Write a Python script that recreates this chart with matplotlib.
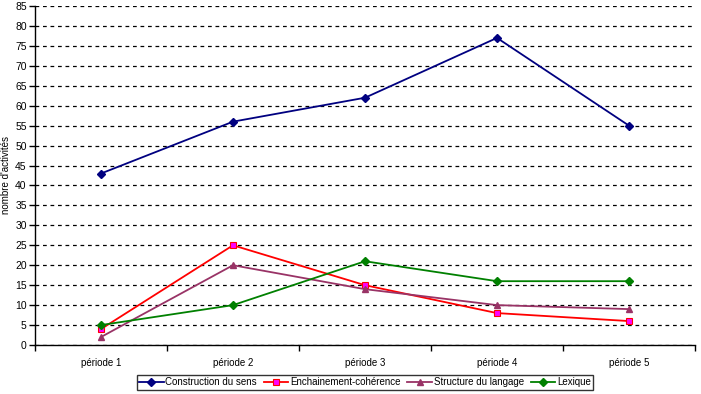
import matplotlib
matplotlib.use("Agg")
import matplotlib.pyplot as plt
import numpy as np

plt.rcParams['font.family'] = ['Liberation Sans', 'DejaVu Sans']

periods = ['période 1', 'période 2', 'période 3', 'période 4', 'période 5']
construction = [43, 56, 62, 77, 55]
enchainement = [4, 25, 15, 8, 6]
structure = [2, 20, 14, 10, 9]
lexique = [5, 10, 21, 16, 16]

fig = plt.figure(figsize=(7.01, 3.94), dpi=100)
ax = fig.add_axes([35 / 701, 49 / 394, 660 / 701, 339 / 394])

x = np.arange(len(periods))
ax.plot(x, construction, color='#000080', marker='D', markersize=4, lw=1.3,
        label='Construction du sens')
ax.plot(x, enchainement, color='#FF0000', marker='s', markersize=5, lw=1.3,
        markerfacecolor='#FF00FF', markeredgecolor='#FF0000', markeredgewidth=0.8,
        label='Enchainement-cohérence')
ax.plot(x, structure, color='#993366', marker='^', markersize=5, lw=1.3,
        label='Structure du langage')
ax.plot(x, lexique, color='#008000', marker='D', markersize=4, lw=1.3,
        label='Lexique')

ax.set_xlim(-0.5, len(periods) - 0.5)
ax.set_ylim(0, 85)
ax.set_yticks(range(0, 86, 5))
ax.set_xticks(x)
ax.set_xticklabels(periods)
ax.set_xticks(np.arange(-0.5, len(periods), 1), minor=True)
ax.tick_params(axis='x', which='major', length=0, pad=9, labelsize=7)
ax.tick_params(axis='x', which='minor', length=4, width=1, direction='out')
ax.tick_params(axis='y', length=4, width=1, direction='out', labelsize=7.5, pad=2)

ax.yaxis.grid(True, color='black', linestyle=(0, (3, 3)), linewidth=0.9)
ax.set_axisbelow(True)
for s in ['top', 'right']:
    ax.spines[s].set_visible(False)
for s in ['left', 'bottom']:
    ax.spines[s].set_linewidth(1)

ax.set_ylabel("nombre d'activités", fontsize=7)
ax.yaxis.set_label_coords(-0.036, 0.5)

leg = ax.legend(loc='upper center', bbox_to_anchor=(0.5, -0.088), ncol=4,
                fontsize=7, frameon=True, fancybox=False, edgecolor='black',
                handlelength=2.5, handletextpad=0.2, columnspacing=0.7,
                borderpad=0.25, borderaxespad=0)
leg.get_frame().set_linewidth(1)

fig.savefig('out.png', dpi=100)
